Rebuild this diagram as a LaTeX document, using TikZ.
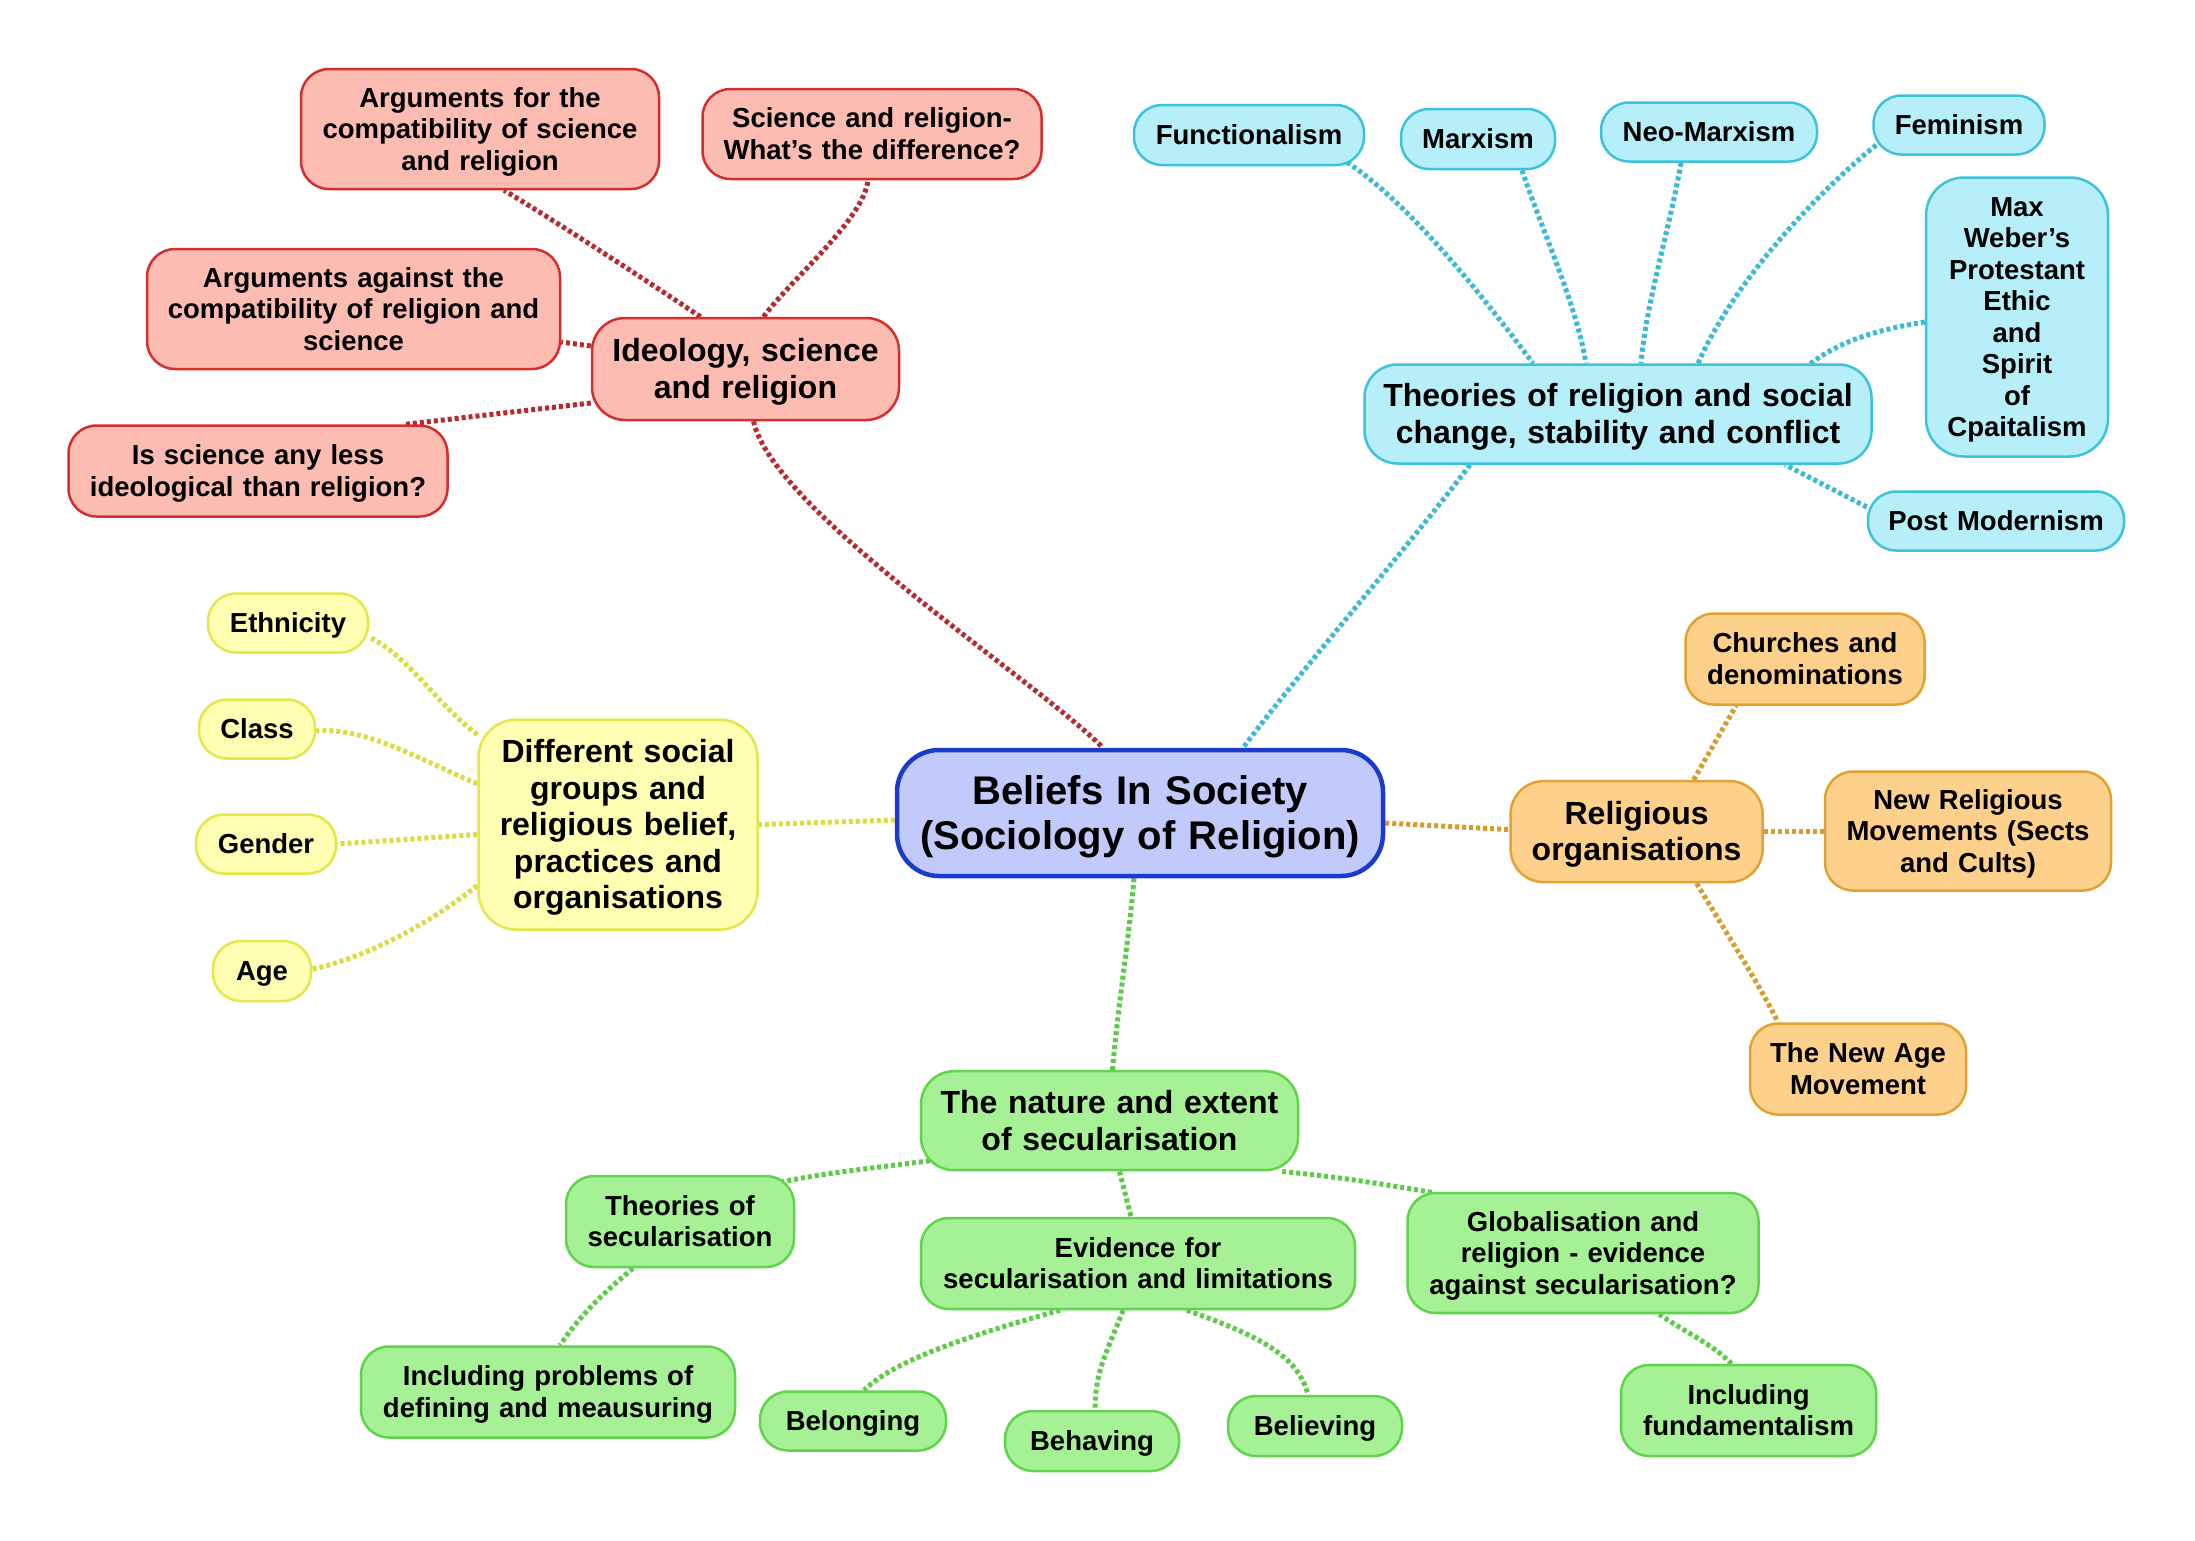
\documentclass[tikz,border=0pt]{standalone}
\usepackage{fontspec}
\setmainfont{Liberation Sans}
\usetikzlibrary{calc,backgrounds}
\definecolor{rfill}{HTML}{FCBCB2}\definecolor{rdraw}{HTML}{D42E2E}\definecolor{rline}{HTML}{B52A2E}
\definecolor{cfill}{HTML}{B6EEF9}\definecolor{cdraw}{HTML}{3CC2DC}\definecolor{cline}{HTML}{3ABAD6}
\definecolor{yfill}{HTML}{FFFFB4}\definecolor{ydraw}{HTML}{E3E74A}\definecolor{yline}{HTML}{DCDC40}
\definecolor{ofill}{HTML}{FDD08C}\definecolor{odraw}{HTML}{E2A232}\definecolor{oline}{HTML}{D99C2C}
\definecolor{gfill}{HTML}{A6F096}\definecolor{gdraw}{HTML}{60D44A}\definecolor{gline}{HTML}{5CCC46}
\definecolor{mfill}{HTML}{C2C9FB}\definecolor{mdraw}{HTML}{1A3BCB}
\newcommand{\topstr}{\rule{0pt}{0.905em}}
\newcommand{\botstr}{\rule[-0.212em]{0pt}{0pt}}
\tikzset{
  base/.style={draw, align=center, inner sep=0pt, line width=2.5pt, text=black,
    execute at begin node=\topstr, execute at end node=\botstr},
  small/.style={base, rounded corners=28pt, font=\fontsize{27.5}{31.5}\selectfont\bfseries},
  big/.style={base, rounded corners=33pt, font=\fontsize{32}{36.5}\selectfont\bfseries},
  sz/.style 2 args={minimum width=#1, minimum height=#2, text width=#1-14pt},
  red/.style={fill=rfill, draw=rdraw},
  cyan/.style={fill=cfill, draw=cdraw},
  yel/.style={fill=yfill, draw=ydraw},
  ora/.style={fill=ofill, draw=odraw},
  grn/.style={fill=gfill, draw=gdraw},
  link/.style={line width=5pt, dash pattern=on 4pt off 3pt},
  rl/.style={link, draw=rline}, cl/.style={link, draw=cline}, yl/.style={link, draw=yline},
  ol/.style={link, draw=oline}, gl/.style={link, draw=gline},
}
\begin{document}
\begin{tikzpicture}[x=1pt,y=-1pt]
\path[use as bounding box] (0,0) rectangle (2195,1540);
% central
\node[base, fill=mfill, draw=mdraw, line width=4.5pt, rounded corners=42pt, font=\fontsize{40}{45}\selectfont\bfseries, sz={486pt}{126pt}] (c) at (1140,813) {Beliefs In Society\\(Sociology of Religion)};
% red
\node[big, red, sz={307pt}{102pt}] (ideo) at (745.5,369) {Ideology, science\\and religion};
\node[small, red, sz={358pt}{120pt}] (afor) at (480,129) {Arguments for the\\compatibility of science\\and religion};
\node[small, red, sz={339pt}{90pt}] (sdiff) at (872,134) {Science and religion-\\What’s the difference?};
\node[small, red, sz={413pt}{120pt}] (aag) at (353.5,309) {Arguments against the\\compatibility of religion and\\science};
\node[small, red, sz={379pt}{91pt}] (isci) at (258,471) {Is science any less\\ideological than religion?};
% cyan
\node[big, cyan, sz={507pt}{99pt}] (theo) at (1618,414) {Theories of religion and social\\change, stability and conflict};
\node[small, cyan, sz={230pt}{60pt}] (func) at (1249,135) {Functionalism};
\node[small, cyan, sz={154pt}{60pt}] (marx) at (1478,139) {Marxism};
\node[small, cyan, sz={216pt}{59pt}] (neo) at (1709,132) {Neo-Marxism};
\node[small, cyan, sz={171pt}{59pt}] (fem) at (1959,125) {Feminism};
\node[small, cyan, rounded corners=38pt, sz={182pt}{279pt}] (web) at (2017,317) {Max\\Weber’s\\Protestant\\Ethic\\and\\Spirit\\of\\Cpaitalism};
\node[small, cyan, sz={256pt}{59pt}] (post) at (1996,521) {Post Modernism};
% orange
\node[big, ora, sz={252pt}{101pt}] (ro) at (1636.6,831.6) {Religious\\organisations};
\node[small, ora, sz={239pt}{91pt}] (ch) at (1805,659) {Churches and\\denominations};
\node[small, ora, sz={286pt}{119pt}] (nrm) at (1968,831) {New Religious\\Movements (Sects\\and Cults)};
\node[small, ora, sz={216pt}{91pt}] (na) at (1858,1069) {The New Age\\Movement};
% yellow
\node[big, yel, rounded corners=38pt, sz={279pt}{210pt}] (ds) at (618,824.6) {Different social\\groups and\\religious belief,\\practices and\\organisations};
\node[small, yel, sz={160pt}{59pt}] (eth) at (288,623) {Ethnicity};
\node[small, yel, sz={116pt}{59pt}] (cls) at (257,729) {Class};
\node[small, yel, sz={140pt}{59pt}] (gen) at (266,844) {Gender};
\node[small, yel, sz={98pt}{60pt}] (age) at (262,971) {Age};
% green
\node[big, grn, sz={377pt}{99pt}] (ne) at (1109.5,1120.7) {The nature and extent\\of secularisation};
\node[small, grn, sz={228pt}{91pt}] (ts) at (680,1221.5) {Theories of\\secularisation};
\node[small, grn, sz={374pt}{91pt}] (ip) at (548,1392) {Including problems of\\defining and meausuring};
\node[small, grn, sz={434pt}{91pt}] (ev) at (1138,1263.5) {Evidence for\\secularisation and limitations};
\node[small, grn, sz={186pt}{59pt}] (bel) at (853,1421) {Belonging};
\node[small, grn, sz={174pt}{60pt}] (beh) at (1092,1441) {Behaving};
\node[small, grn, sz={174pt}{60pt}] (blv) at (1315,1426) {Believing};
\node[small, grn, sz={351pt}{120pt}] (glob) at (1583,1253) {Globalisation and\\religion - evidence\\against secularisation?};
\node[small, grn, sz={255pt}{91pt}] (fund) at (1748.6,1410.5) {Including\\fundamentalism};
\begin{pgfonlayer}{background}
\fill[white] (0,0) rectangle (2195,1540);
% red links
\draw[rl] ($(ideo.north)+(-45,0)$) .. controls +(-60,-40) and +(50,30) .. ($(afor.south)+(24,0)$);
\draw[rl] ($(ideo.north)+(18,0)$) .. controls +(30,-40) and +(-5,40) .. ($(sdiff.south)+(-4,0)$);
\draw[rl] ($(ideo.west)+(0,-23)$) -- ($(aag.east)+(0,33)$);
\draw[rl] ($(ideo.west)+(0,34)$) -- ($(isci.north)+(148,0)$);
\draw[rl] ($(ideo.south)+(8,0)$) .. controls +(20,90) and +(-70,-70) .. ($(c.north)+(-37,0)$);
% cyan links
\draw[cl] ($(func.south)+(98,-4)$) .. controls +(60,40) and +(-60,-80) .. ($(theo.north)+(-85,0)$);
\draw[cl] ($(marx.south)+(44,0)$) .. controls +(20,60) and +(-10,-60) .. ($(theo.north)+(-32,0)$);
\draw[cl] ($(neo.south)+(-28,0)$) .. controls +(-10,60) and +(5,-60) .. ($(theo.north)+(23,0)$);
\draw[cl] ($(fem.west)+(4,20)$) .. controls +(-50,40) and +(40,-90) .. ($(theo.north)+(80,0)$);
\draw[cl] ($(web.west)+(0,5)$) .. controls +(-50,8) and +(30,-25) .. ($(theo.north)+(188,4)$);
\draw[cl] ($(post.west)+(0,-14)$) -- ($(theo.south)+(167,0)$);
\draw[cl] ($(theo.south)+(-148,0)$) .. controls +(-60,80) and +(60,-80) .. ($(c.north)+(103,0)$);
% orange links
\draw[ol] ($(c.east)+(0,10)$) -- ($(ro.west)+(0,-2)$);
\draw[ol] ($(ro.north)+(57,0)$) -- ($(ch.south)+(-69,0)$);
\draw[ol] (ro.east) -- (ro.east -| nrm.west);
\draw[ol] ($(ro.south)+(60,0)$) .. controls +(30,50) and +(-20,-40) .. ($(na.north)+(-80,0)$);
% yellow links
\draw[yl] ($(c.west)+(0,7)$) -- (ds.east);
\draw[yl] ($(ds.west)+(0,-90)$) .. controls +(-40,-30) and +(40,20) .. ($(eth.east)+(0,14)$);
\draw[yl] ($(ds.west)+(0,-41)$) .. controls +(-50,-20) and +(50,-5) .. ($(cls.east)+(0,2)$);
\draw[yl] ($(ds.west)+(0,10)$) -- (gen.east);
\draw[yl] ($(ds.west)+(0,61)$) .. controls +(-50,40) and +(50,-10) .. ($(age.east)+(0,-2)$);
% green links
\draw[gl] ($(c.south)+(-6,0)$) .. controls +(-5,60) and +(5,-60) .. ($(ne.north)+(3,0)$);
\draw[gl] ($(ne.west)+(10,40)$) .. controls +(-60,8) and +(50,-10) .. ($(ts.north east)+(-13,7)$);
\draw[gl] ($(ne.south)+(10,0)$) -- ($(ev.north)+(-7,0)$);
\draw[gl] ($(ne.south east)+(-17,0)$) .. controls +(60,6) and +(-60,-10) .. ($(glob.north west)+(28,1)$);
\draw[gl] ($(ts.south)+(-47,0)$) .. controls +(-30,25) and +(20,-30) .. ($(ip.north)+(12,0)$);
\draw[gl] ($(ev.south)+(-78,0)$) .. controls +(-90,25) and +(30,-30) .. ($(bel.north)+(11,0)$);
\draw[gl] ($(ev.south)+(-15,0)$) .. controls +(-15,40) and +(0,-40) .. ($(beh.north)+(3,0)$);
\draw[gl] ($(ev.south)+(49,0)$) .. controls +(70,25) and +(-10,-40) .. ($(blv.north)+(-7,0)$);
\draw[gl] ($(glob.south)+(76,0)$) .. controls +(30,20) and +(-20,-20) .. ($(fund.north)+(-17,0)$);
\end{pgfonlayer}
\end{tikzpicture}
\end{document}
